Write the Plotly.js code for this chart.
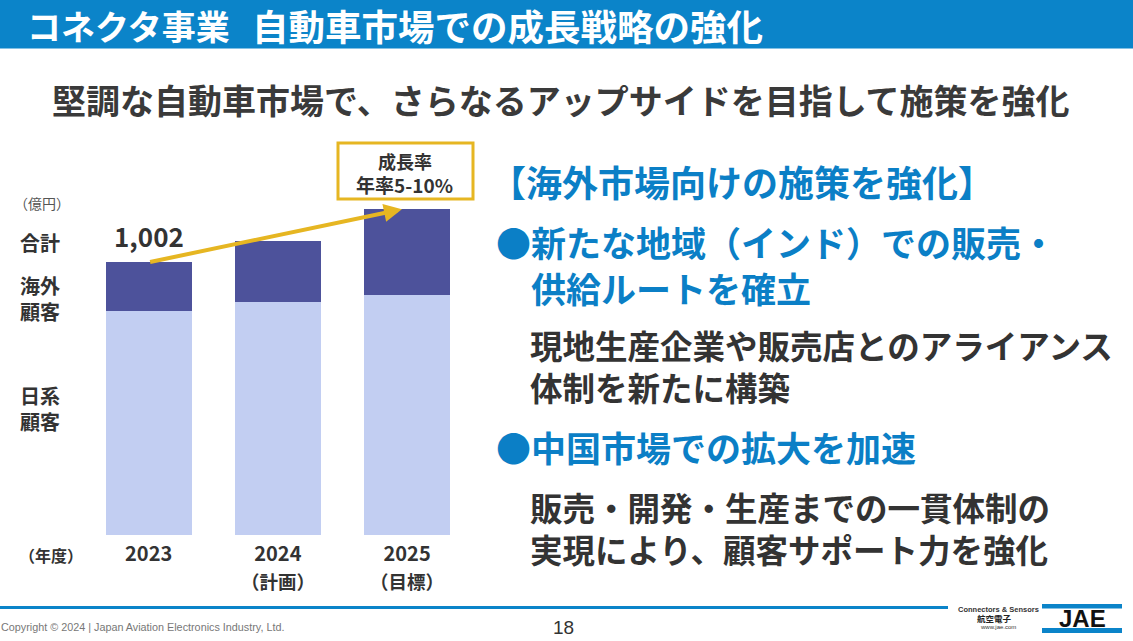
<!DOCTYPE html>
<html><head><meta charset="utf-8">
<script src="https://cdn.plot.ly/plotly-3.0.1.min.js"></script>
<style>html,body{margin:0;padding:0;background:#fff;}#chart{width:1133px;height:641px;}</style>
</head><body><div id="chart"></div>
<script>
const categories = ['2023', '2024', '2025'];
const tickLabels = ['<b>2023</b>', '<b>2024</b>', '<b>2025</b>'];
const tickSubLabels = ['', '（計画）', '（目標）'];
const japanCustomers = [823, 857, 882];     // 日系顧客
const overseasCustomers = [179, 223, 315];  // 海外顧客
const totalLabels = ['1,002', '', ''];
const growthText = ['成長率', '年率5-10%'];

const totals = japanCustomers.map((v, i) => v + overseasCustomers[i]);

const W = 1133, H = 641;
const X = p => p / W;
const Y = p => 1 - p / H;
const JP = '"Noto Sans CJK JP", "Noto Sans", sans-serif';
const LS = '"Liberation Sans", Arial, sans-serif';
const BLUE = '#0B7FC6';
const DARK = '#333333';
const YEL = '#E6B622';

function txt(x, y, text, size, color, anchor, family) {
  return {
    xref: 'paper', yref: 'paper', x: X(x), y: Y(y), text: text, showarrow: false,
    xanchor: anchor || 'left', yanchor: 'middle', align: 'left', borderpad: 0,
    font: {family: family || JP, size: size, color: color}
  };
}

const traces = [
  {type: 'bar', x: categories, y: japanCustomers, name: '日系顧客',
   marker: {color: '#C2CEF2'}, hoverinfo: 'skip'},
  {type: 'bar', x: categories, y: overseasCustomers, name: '海外顧客',
   marker: {color: '#4D529B'}, hoverinfo: 'skip'}
];

const annotations = [
  txt(26, 25, '<b>コネクタ事業</b>', 34, '#ffffff'),
  txt(251, 25, '<b>自動車市場での成長戦略の強化</b>', 36.5, '#ffffff'),
  txt(561, 100, '<b>堅調な自動車市場で、さらなるアップサイドを目指して施策を強化</b>', 34, '#3a3a3a', 'center'),
  // left labels
  txt(13, 203, '（億円）', 14, '#555555'),
  txt(19, 242, '<b>合計</b>', 20, DARK),
  txt(19, 298, '<b>海外</b><br><b>顧客</b>', 20, DARK),
  txt(19, 408, '<b>日系</b><br><b>顧客</b>', 20, DARK),
  txt(18, 555, '<b>（年度）</b>', 16, DARK),
  // growth box text
  txt(405, 161, '<b>' + growthText[0] + '</b>', 18, DARK, 'center'),
  txt(405, 184, '<b>' + growthText[1] + '</b>', 19, DARK, 'center'),
  // right text
  txt(489, 181, '<b>【海外市場向けの施策を強化】</b>', 36, BLUE),
  txt(495, 264, '<b>●新たな地域（インド）での販売・</b><br><b>　供給ルートを確立</b>', 35, BLUE),
  txt(529, 365, '<b>現地生産企業や販売店とのアライアンス</b><br><b>体制を新たに構築</b>', 32.5, DARK),
  txt(495, 446, '<b>●中国市場での拡大を加速</b>', 35, BLUE),
  txt(529, 527, '<b>販売・開発・生産までの一貫体制の</b><br><b>実現により、顧客サポート力を強化</b>', 32.5, DARK),
  // footer
  txt(0, 627, 'Copyright © 2024 | Japan Aviation Electronics Industry, Ltd.', 10.8, '#777777', 'left', LS),
  txt(563, 627, '18', 19, '#333333', 'center', LS),
  txt(998, 609.5, '<b>Connectors &amp; Sensors</b>', 7.5, '#333333', 'center', LS),
  txt(994, 618, '<b>航空電子</b>', 8.5, '#222222', 'center'),
  txt(998, 626.5, 'www.jae.com', 6, '#333333', 'center', LS),
  txt(1082, 618, '<b>JAE</b>', 24, '#111111', 'center', LS)
];

// total label above bars
totalLabels.forEach((t, i) => {
  if (!t) return;
  annotations.push({xref: 'x', yref: 'y', x: i, y: totals[i], text: '<b>' + t + '</b>',
    showarrow: false, yanchor: 'bottom', yshift: 6,
    font: {family: JP, size: 26, color: DARK}});
});

// second line of the year labels
tickSubLabels.forEach((t, i) => {
  if (!t) return;
  annotations.push({xref: 'x', yref: 'paper', x: i, y: Y(581), text: '<b>' + t + '</b>',
    showarrow: false, yanchor: 'middle', borderpad: 0, font: {family: JP, size: 18.5, color: DARK}});
});

// growth arrow from 2023 total to 2025 total
annotations.push({xref: 'x', yref: 'y', axref: 'x', ayref: 'y',
  x: 1.96, y: totals[2], ax: 0, ay: totals[0], text: '', showarrow: true,
  arrowhead: 2, arrowsize: 0.9, arrowwidth: 4, arrowcolor: YEL, standoff: 0, startstandoff: 0});

const shapes = [
  {type: 'rect', xref: 'paper', yref: 'paper', x0: 0, x1: 1, y0: Y(48.5), y1: 1, fillcolor: '#0B84C9', line: {width: 0}, layer: 'below'},
  {type: 'rect', xref: 'paper', yref: 'paper', x0: X(338), x1: X(473), y0: Y(199), y1: Y(143), fillcolor: 'rgba(0,0,0,0)', line: {color: YEL, width: 3}},
  {type: 'rect', xref: 'paper', yref: 'paper', x0: 0, x1: X(948), y0: Y(609), y1: Y(606), fillcolor: '#0B84C9', line: {width: 0}},
  {type: 'rect', xref: 'paper', yref: 'paper', x0: X(1042), x1: X(1122), y0: Y(608.5), y1: Y(604), fillcolor: '#0B84C9', line: {width: 0}},
  {type: 'rect', xref: 'paper', yref: 'paper', x0: X(1042), x1: X(1122), y0: Y(633), y1: Y(628), fillcolor: '#0B84C9', line: {width: 0}}
];

const layout = {
  width: W, height: H, margin: {l: 0, r: 0, t: 0, b: 0},
  paper_bgcolor: '#ffffff', plot_bgcolor: 'rgba(0,0,0,0)',
  barmode: 'stack', bargap: 0.335, showlegend: false,
  xaxis: {domain: [X(84), X(471.7)], type: 'category', range: [-0.5, 2.5],
    tickvals: categories, ticktext: tickLabels, ticks: '', ticklabelstandoff: 5,
    showline: false, showgrid: false, zeroline: false,
    tickfont: {family: JP, size: 20, color: DARK}, fixedrange: true},
  yaxis: {domain: [Y(535), Y(181.2)], range: [0, 1300], visible: false, fixedrange: true},
  annotations: annotations, shapes: shapes
};

Plotly.newPlot('chart', traces, layout, {displayModeBar: false, staticPlot: true});
</script></body></html>
